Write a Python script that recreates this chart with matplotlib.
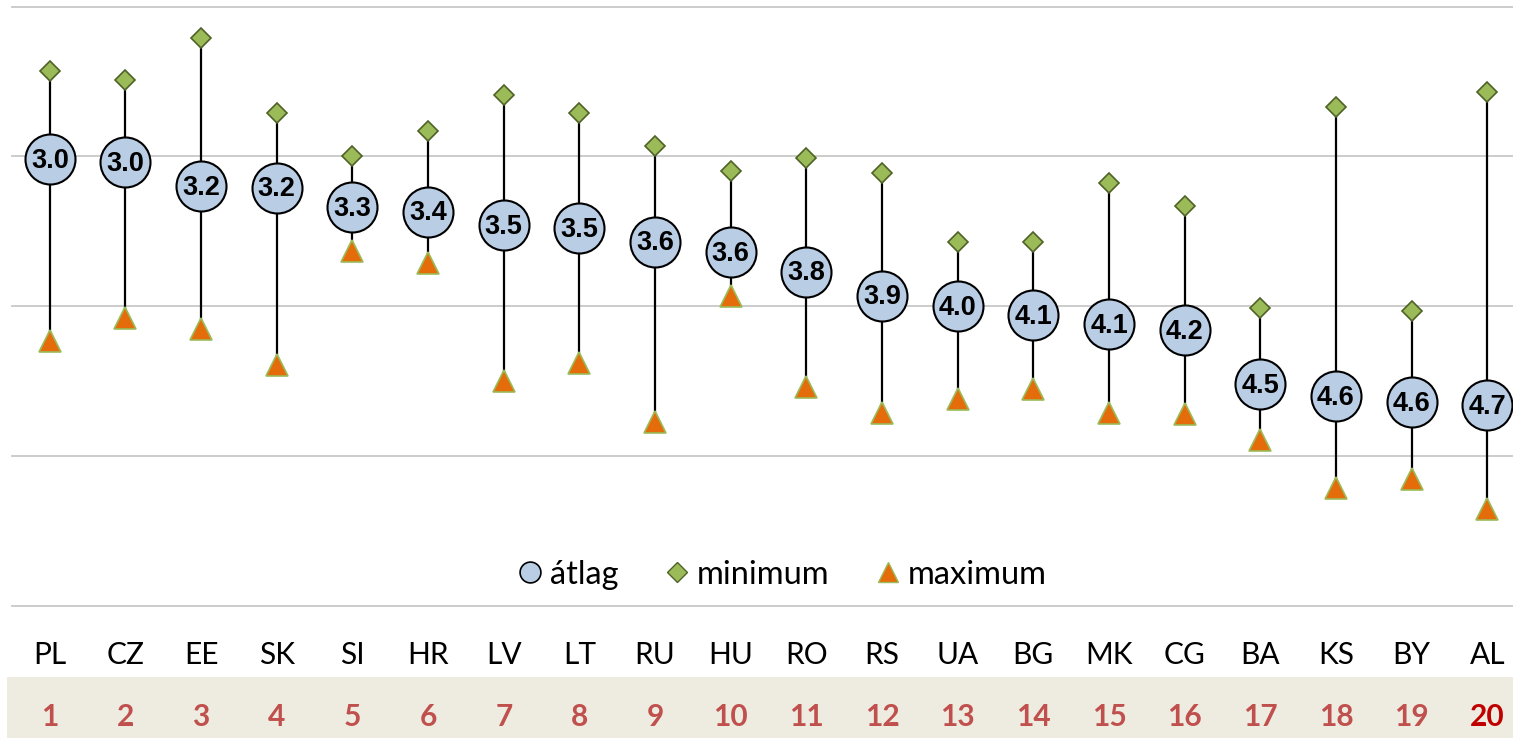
import matplotlib
matplotlib.use("Agg")
import matplotlib.pyplot as plt
import matplotlib.transforms as mtransforms
from matplotlib.lines import Line2D
from matplotlib.patches import Rectangle

countries = ["PL", "CZ", "EE", "SK", "SI", "HR", "LV", "LT", "RU", "HU",
             "RO", "RS", "UA", "BG", "MK", "CG", "BA", "KS", "BY", "AL"]
mean_vals = [3.02, 3.04, 3.20, 3.21, 3.34, 3.37, 3.46, 3.48, 3.57, 3.64,
             3.77, 3.93, 4.00, 4.06, 4.12, 4.16, 4.52, 4.60, 4.64, 4.66]
min_vals = [2.43, 2.49, 2.21, 2.71, 3.00, 2.83, 2.59, 2.71, 2.93, 3.10,
            3.01, 3.11, 3.57, 3.57, 3.18, 3.33, 4.01, 2.67, 4.03, 2.57]
max_vals = [4.23, 4.08, 4.15, 4.39, 3.63, 3.71, 4.50, 4.38, 4.77, 3.93,
            4.54, 4.71, 4.62, 4.55, 4.71, 4.72, 4.89, 5.21, 5.15, 5.35]
ranks = list(range(1, 21))
legend_labels = ["átlag", "minimum", "maximum"]

W, H = 1513, 738
fig = plt.figure(figsize=(W / 100, H / 100), dpi=100)

# beige band for the rank row
fig.patches.append(Rectangle((7 / W, 0), 1 - 7 / W, 61 / H, transform=fig.transFigure,
                             facecolor="#EEECE1", edgecolor="none", zorder=0))

ax_left, ax_right = 12 / W, 1.0
ax_top, ax_bottom = 1 - 6.5 / H, 1 - 606 / H
ax = fig.add_axes([ax_left, ax_bottom, ax_right - ax_left, ax_top - ax_bottom])
ax.set_facecolor("none")

x = list(range(len(countries)))
ax.set_xlim(-0.5, 19.34)
ax.set_ylim(6, 2)
ax.set_yticks([2, 3, 4, 5, 6])
ax.set_xticks([])
ax.tick_params(left=False, labelleft=False)
for s in ax.spines.values():
    s.set_visible(False)
for yv in [2, 3, 4, 5, 6]:
    ax.axhline(yv, color="#C8C8C8", lw=1.3, zorder=0, clip_on=False)

ax.vlines(x, min_vals, max_vals, color="black", lw=1.6, zorder=2)
ax.plot(x, max_vals, linestyle="none", marker="^", ms=16.5, mfc="#E46C0A",
        mec="#9BBB59", mew=1.2, zorder=3)
ax.plot(x, min_vals, linestyle="none", marker="D", ms=10.5, mfc="#9BBB59",
        mec="#4F6228", mew=1.2, zorder=3)
ax.plot(x, mean_vals, linestyle="none", marker="o", ms=36, mfc="#B9CDE5",
        mec="black", mew=1.5, zorder=4)
for xi, v in zip(x, mean_vals):
    ax.text(xi, v + 0.01, f"{v:.1f}", ha="center", va="center", fontsize=19.5,
            fontweight="bold", family=["Liberation Sans", "DejaVu Sans"],
            color="black", zorder=5)

handles = [
    Line2D([], [], linestyle="none", marker="o", ms=15, mfc="#B9CDE5", mec="black", mew=1.2),
    Line2D([], [], linestyle="none", marker="D", ms=10, mfc="#9BBB59", mec="#4F6228", mew=1.0),
    Line2D([], [], linestyle="none", marker="^", ms=15, mfc="#E46C0A", mec="#9BBB59", mew=1.0),
]
leg = ax.legend(handles, legend_labels, loc="center", bbox_to_anchor=(0.5117, 0.052),
                ncol=3, frameon=False, handletextpad=0.1, columnspacing=1.3,
                handlelength=1.0, prop={"family": "Lato", "size": 23.5})
for t in leg.get_texts():
    t.set_color("black")

trans = mtransforms.blended_transform_factory(ax.transData, fig.transFigure)
for xi, c in zip(x, countries):
    fig.text(xi, 1 - 655 / H, c, transform=trans, ha="center", va="center",
             fontsize=21.5, family="Lato", color="black")
for xi, r in zip(x, ranks):
    col = "#C00000" if r == 20 else "#C0504D"
    fig.text(xi, 1 - 717 / H, str(r), transform=trans, ha="center", va="center",
             fontsize=21.5, family="Lato", fontweight="bold", color=col)

fig.savefig("out.png", dpi=100)
